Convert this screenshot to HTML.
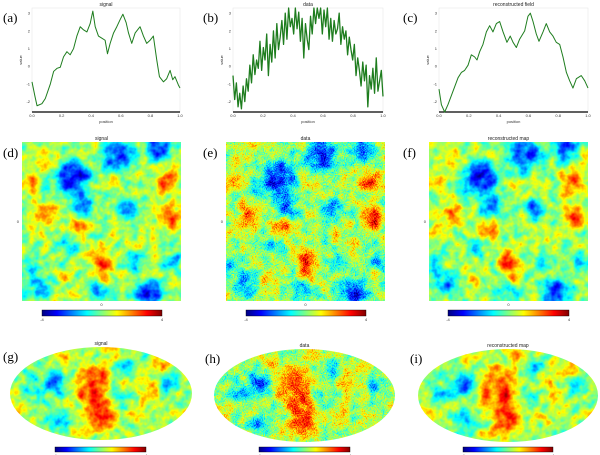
<!DOCTYPE html>
<html><head><meta charset="utf-8">
<style>
html,body{margin:0;padding:0;background:#fff;}
body{width:600px;height:455px;overflow:hidden;}
svg{display:block;font-family:"Liberation Sans",sans-serif;}
.pl{font-family:"Liberation Serif",serif;font-size:13px;fill:#000;}
.tt{font-size:5px;fill:#222;}
.tk{font-size:4px;fill:#333;}
</style></head>
<body>
<svg id="fig" width="600" height="455" viewBox="0 0 600 455" xmlns="http://www.w3.org/2000/svg">
<defs>
<linearGradient id="jet" x1="0" x2="1" y1="0" y2="0">
<stop offset="0" stop-color="#000080"/><stop offset="0.125" stop-color="#0000ff"/><stop offset="0.375" stop-color="#00ffff"/><stop offset="0.625" stop-color="#ffff00"/><stop offset="0.875" stop-color="#ff0000"/><stop offset="1" stop-color="#800000"/>
</linearGradient>
<filter id="fSmooth" color-interpolation-filters="sRGB">
<feGaussianBlur in="SourceGraphic" stdDeviation="5" result="b"/>
<feTurbulence type="fractalNoise" baseFrequency="0.1" numOctaves="3" seed="4" result="n"/>
<feColorMatrix in="n" type="matrix" values="1 0 0 0 0 1 0 0 0 0 1 0 0 0 0 0 0 0 0 1" result="ng"/>
<feComposite in="b" in2="ng" operator="arithmetic" k1="0" k2="1" k3="0.45" k4="-0.225" result="c"/>
<feComponentTransfer in="c">
<feFuncR type="table" tableValues="0 0 0 0 0.5 1 1 1 0.5"/>
<feFuncG type="table" tableValues="0 0 0.5 1 1 1 0.5 0 0"/>
<feFuncB type="table" tableValues="0.5 1 1 1 0.5 0 0 0 0"/>
<feFuncA type="linear" slope="0" intercept="1"/>
</feComponentTransfer>
</filter>
<filter id="fNoisy" color-interpolation-filters="sRGB">
<feGaussianBlur in="SourceGraphic" stdDeviation="5" result="b"/>
<feTurbulence type="fractalNoise" baseFrequency="0.1" numOctaves="3" seed="4" result="n"/>
<feColorMatrix in="n" type="matrix" values="1 0 0 0 0 1 0 0 0 0 1 0 0 0 0 0 0 0 0 1" result="ng"/>
<feTurbulence type="fractalNoise" baseFrequency="0.9" numOctaves="1" seed="9" result="h"/>
<feColorMatrix in="h" type="matrix" values="1 0 0 0 0 1 0 0 0 0 1 0 0 0 0 0 0 0 0 1" result="hg"/>
<feComposite in="b" in2="ng" operator="arithmetic" k1="0" k2="1" k3="0.45" k4="-0.225" result="c0"/>
<feComposite in="c0" in2="hg" operator="arithmetic" k1="0" k2="1" k3="0.5" k4="-0.25" result="c"/>
<feComponentTransfer in="c">
<feFuncR type="table" tableValues="0 0 0 0 0.5 1 1 1 0.5"/>
<feFuncG type="table" tableValues="0 0 0.5 1 1 1 0.5 0 0"/>
<feFuncB type="table" tableValues="0.5 1 1 1 0.5 0 0 0 0"/>
<feFuncA type="linear" slope="0" intercept="1"/>
</feComponentTransfer>
</filter>
</defs>
<g id="root"></g>
</svg>
<script>
// ---- 1D data (values in 0..10 plot units) ----
const signalX=[0,0.02,0.034,0.067,0.09,0.124,0.146,0.169,0.191,0.213,0.236,0.258,0.281,0.303,0.326,0.348,0.371,0.393,0.411,0.427,0.449,0.472,0.494,0.51,0.528,0.551,0.573,0.596,0.614,0.636,0.652,0.674,0.697,0.73,0.753,0.775,0.798,0.82,0.843,0.861,0.888,0.91,0.933,0.951,0.966,0.989,1];
const signalY=[2.9,1.5,0.6,0.8,1.3,2.7,3.9,4.2,4.3,5.3,5.8,5.5,6.1,7.3,8.2,7.9,7.7,8.5,9.7,8.2,7.3,7.1,6.9,5.6,6.6,7.6,8.2,8.9,9.4,8.6,7.6,6.6,7.6,8.2,7.3,6.6,6.9,7.3,5.0,3.4,2.9,3.2,4.0,3.1,3.4,2.6,2.3];
const reconX=[0,0.016,0.038,0.06,0.094,0.128,0.15,0.172,0.195,0.217,0.239,0.255,0.273,0.295,0.318,0.34,0.362,0.385,0.407,0.43,0.456,0.478,0.497,0.519,0.541,0.575,0.597,0.613,0.631,0.653,0.671,0.698,0.72,0.743,0.765,0.787,0.81,0.832,0.855,0.877,0.899,0.922,0.955,0.978,1];
const reconY=[2.2,0.7,0,0.7,2.0,3.3,3.8,4.0,4.5,5.5,5.3,5.0,5.8,6.5,7.7,8.3,7.7,8.5,8.7,7.7,6.7,7.3,6.7,6.2,7.0,7.8,9.2,9.5,8.7,7.5,6.8,7.7,8.5,7.7,7.3,6.7,6.5,5.3,3.8,3.0,2.3,3.2,3.5,3.0,2.3];
const dataY=[3.5,1.2,2.8,0.5,1.8,0.3,2.5,1.0,3.2,2.0,4.5,2.8,5.5,3.6,5.0,4.2,6.8,4.0,6.2,5.0,7.5,3.5,6.5,4.8,7.8,5.2,8.5,6.0,7.2,8.8,6.5,9.5,7.0,10,8.2,9.0,7.5,10,8.0,9.6,6.8,9.0,5.2,8.5,7.0,6.0,9.2,7.5,10,8.5,10,9.0,10,7.5,9.8,8.2,10,7.0,9.0,6.8,8.8,7.5,8.0,9.5,6.5,8.2,7.0,7.8,5.5,7.2,6.0,5.0,6.5,3.5,5.2,4.0,2.5,4.8,3.0,4.5,0.5,3.5,2.2,4.2,1.8,5.2,2.0,3.0,4.0,1.5];
const xTicks=["0.0","0.2","0.4","0.6","0.8","1.0"];
const yTicks=["-2","-1","0","1","2","3"];
// ---- 2D field blobs: [x,y,r,value] in unit coords ----
const squareBlobs=[[0.33,0.22,0.1,0.15],[0.6,0.08,0.1,0.2],[0.85,0.04,0.08,0.22],[0.38,0.4,0.07,0.22],[0.66,0.42,0.06,0.22],[0.04,0.78,0.05,0.25],[0.96,0.75,0.05,0.25],[0.7,0.76,0.05,0.28],[0.8,0.95,0.09,0.2],[0.12,0.9,0.07,0.28],[0.5,0.92,0.07,0.28],[0.3,0.66,0.06,0.33],[0.2,0.3,0.06,0.38],
[0.05,0.25,0.05,0.8],[0.9,0.25,0.07,0.8],[0.93,0.47,0.07,0.82],[0.15,0.45,0.07,0.77],[0.36,0.55,0.06,0.77],[0.5,0.74,0.07,0.8],[0.52,0.85,0.05,0.77],[0.27,0.86,0.04,0.74],[0.12,0.1,0.05,0.68],[0.58,0.27,0.03,0.7],[0.75,0.6,0.06,0.62],[0.05,0.55,0.04,0.7]];
const skyBlobs=[[0.45,0.35,0.09,0.78],[0.48,0.6,0.08,0.8],[0.5,0.78,0.07,0.83],[0.38,0.48,0.05,0.74],[0.72,0.3,0.04,0.76],[0.76,0.5,0.04,0.74],[0.83,0.2,0.04,0.72],[0.05,0.7,0.04,0.78],[0.98,0.75,0.03,0.78],[0.3,0.12,0.04,0.68],[0.7,0.72,0.04,0.68],[0.55,0.05,0.05,0.7],[0.4,0.9,0.04,0.66],
[0.25,0.38,0.06,0.2],[0.65,0.22,0.04,0.25],[0.88,0.38,0.04,0.25],[0.26,0.78,0.05,0.27],[0.14,0.5,0.05,0.35],[0.6,0.55,0.04,0.38],[0.1,0.35,0.04,0.4]];
const cbLabels=["-4","4"];

const NS="http://www.w3.org/2000/svg";
const root=document.getElementById('root');
function mk(tag,attrs,parent){const e=document.createElementNS(NS,tag);for(const k in attrs)e.setAttribute(k,attrs[k]);(parent||root).appendChild(e);return e;}
function txt(s,x,y,cls,anchor,parent){const t=mk('text',{x:x,y:y,class:cls,'text-anchor':anchor||'start'},parent);t.textContent=s;return t;}

function linePanel(id,label,title,L,R,xs,ys,lw){
  const T=8,B=112;
  const g=mk('g',{});
  
  
  const sx=v=>L+v*(R-L), sy=v=>B-v/10*(B-T);
  const lab=txt(label,3+(L>400?400:L>200?200:0),22,'pl','start',g);
  
  
  const tt=txt(title,(L+R)/2,6,'tt','middle',g);
  
  
  mk('rect',{x:L,y:T,width:R-L,height:B-T,fill:'none',stroke:'#e4e4e4','stroke-width':0.5},g);
  const ax=mk('line',{x1:L,x2:R,y1:B,y2:B,stroke:'#000','stroke-width':1.2},g);
  
  
  xTicks.forEach((s,i)=>{const x=L+i/(xTicks.length-1)*(R-L);const t=txt(s,x,117,'tk','middle',g);});
  yTicks.forEach((s,i)=>{const y=sy(1+i*1.7);const t=txt(s,L-2,y+1.5,'tk','end',g);});
  const xl=txt('position',(L+R)/2,123,'tk','middle',g);
  
  
  const yl=txt('value',0,0,'tk','middle',g);
  yl.setAttribute('transform','translate('+(L-10)+',60) rotate(-90)');
  
  
  const pts=ys.map((v,i)=>sx(xs[i])+','+sy(v)).join(' ');
  const pl=mk('polyline',{points:pts,fill:'none',stroke:'#1e7d1e','stroke-width':lw,'stroke-linejoin':'round'},g);
  
  
}
linePanel('signal','(a)','signal',32,180,signalX,signalY,1);
const dataX=dataY.map((v,i)=>i/(dataY.length-1));
linePanel('data','(b)','data',233,383,dataX,dataY,1.3);
linePanel('reconstructed','(c)','reconstructed field',439,588,reconX,reconY,1);

function mapPanel(id,label,title,x0,y0,W,H,blobs,filt,ellipse,cbx,cby,cbw,cbh,labx,laby,showAxes){
  const g=mk('g',{});
  
  
  const lab=txt(label,labx,laby,'pl','start',g);
  
  
  const tt=txt(title,x0+W/2,y0-2,'tt','middle',g);
  
  
  const cid='clip-'+id;
  const cp=mk('clipPath',{id:cid},g);
  if(ellipse)mk('ellipse',{cx:x0+W/2,cy:y0+H/2,rx:W/2,ry:H/2},cp);else mk('rect',{x:x0,y:y0,width:W,height:H},cp);
  const cg=mk('g',{'clip-path':'url(#'+cid+')'},g);
  
  
  const fg=mk('g',{filter:'url(#'+filt+')'},cg);
  mk('rect',{x:x0-15,y:y0-15,width:W+30,height:H+30,fill:'rgb(135,135,135)'},fg);
  blobs.forEach(b=>{const v=Math.round(b[3]*255);
    const c=mk('circle',{cx:x0+b[0]*W,cy:y0+b[1]*H,r:b[2]*W,fill:'rgb('+v+','+v+','+v+')'},fg);
    
    });
  if(showAxes){
    const a=txt('0',x0-3,y0+H/2+1.5,'tk','end',g);
    const b=txt('0',x0+W/2,y0+H+5,'tk','middle',g);
  }
  const cb=mk('rect',{x:cbx,y:cby,width:cbw,height:cbh,fill:'url(#jet)',stroke:'#000','stroke-width':0.4},g);
  
  
  cbLabels.forEach((s,i)=>{const t=txt(s,cbx+i*cbw,cby+cbh+5,'tk','middle',g);});
}
mapPanel('signal-map','(d)','signal',22,142,159,159,squareBlobs,'fSmooth',false,42,310,120,6,3,157,true);
mapPanel('data-map','(e)','data',226,142,159,159,squareBlobs,'fNoisy',false,246,310,120,6,203,157,true);
mapPanel('reconstructed-map','(f)','reconstructed map',429,142,159,159,squareBlobs,'fSmooth',false,448,310,121,6,403,157,true);
mapPanel('signal-sky','(g)','signal',10,347,182,93,skyBlobs,'fSmooth',true,55,447,91,5,3,361,false);
mapPanel('data-sky','(h)','data',214,349,181,93,skyBlobs,'fNoisy',true,259,447,91,5,205,363,false);
mapPanel('reconstructed-sky','(i)','reconstructed map',418,349,180,93,skyBlobs,'fSmooth',true,463,447,90,5,410,363,false);
</script>
</body></html>
